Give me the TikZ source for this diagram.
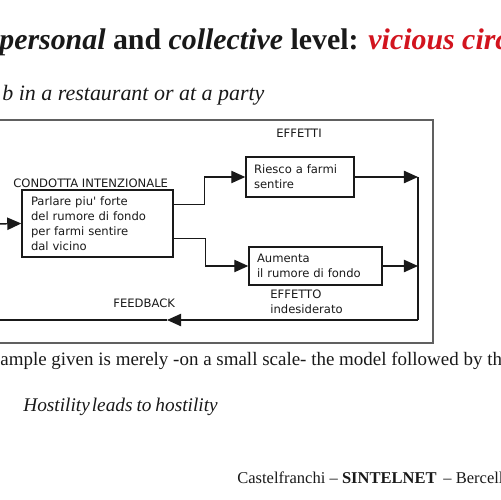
\documentclass[tikz,border=0pt]{standalone}
\usepackage{fontspec}
\setmainfont{Liberation Serif}
\newfontfamily\diag{DejaVu Sans}
\usetikzlibrary{arrows.meta}
\definecolor{titlered}{RGB}{210,20,30}
\definecolor{ink}{RGB}{25,25,25}
\begin{document}
\begin{tikzpicture}[x=0.02cm,y=-0.02cm,
  box/.style={draw=ink, line width=0.8pt, inner xsep=0.18cm, inner ysep=0pt, align=left,
    font=\diag\fontsize{6.6pt}{8.5pt}\selectfont, text=ink},
  lbl/.style={font=\diag\fontsize{6.6pt}{8.5pt}\selectfont, inner sep=0pt, anchor=base west, text=ink},
  conn/.style={draw=ink, line width=0.8pt},
  arr/.style={conn, -{Triangle[length=8pt,width=7pt]}},
  txt/.style={inner sep=0pt, anchor=base west, text=ink},
]
\useasboundingbox (0,0) rectangle (500,500);
\clip (0,0) rectangle (500,500);

% texts
\node[txt, font=\fontsize{17pt}{19pt}\selectfont\bfseries] (title) at (-1,50)
  {\textit{personal} and \textit{collective} level: \textcolor{titlered}{\textit{vicious circ}}};
\node[txt, font=\itshape\fontsize{12.5pt}{14pt}\selectfont] (sub) at (2,101) {b in a restaurant or at a party};
\node[txt, font=\fontsize{10.8pt}{13pt}\selectfont] (body) at (0,365)
  {ample given is merely -on a small scale- the model followed by th};
\node[txt, font=\itshape\fontsize{11pt}{13pt}\selectfont] (host) at (23,411)
  {Hostility\hspace{0.1em}leads\hspace{0.2em}to\hspace{0.2em}hostility};
\node[txt, font=\fontsize{9.4pt}{11pt}\selectfont] (foot) at (237,483)
  {Castelfranchi -- \textbf{SINTELNET}\, -- Bercell};

% frame
\draw[draw=gray!75!black, line width=0.8pt] (-5,120) -- (433,120) -- (433,343) -- (-5,343);

% boxes
\node[box, text width=2.66cm, minimum height=1.34cm] (b1) at (97.5,223.5)
  {Parlare piu' forte\\del rumore di fondo\\per farmi sentire\\dal vicino};
\node[box, text width=1.84cm, minimum height=0.8cm, inner xsep=0.16cm] (b2) at (300,177)
  {Riesco a farmi\\sentire};
\node[box, text width=2.34cm, minimum height=0.76cm, inner xsep=0.16cm] (b3) at (315.5,266)
  {Aumenta\\il rumore di fondo};

% labels
\node[lbl] (cond) at (13,187) {CONDOTTA INTENZIONALE};
\node[lbl] (eff) at (276,137) {EFFETTI};
\node[lbl] (eff1) at (270,298) {EFFETTO};
\node[lbl] (eff2) at (270,313) {indesiderato};
\node[lbl] (fbk) at (113,307) {FEEDBACK};

% connectors
\coordinate (in) at (-5,224);
\coordinate (fb) at (418,320);
\coordinate (mid) at (167,320);
\coordinate (out) at (-5,320);
\draw[arr] (in) -- (b1.west);
\draw[arr] ([yshift=-0.3cm]b1.north east) -- ++(31,0) |- (b2.west);
\draw[arr] ([yshift=0.38cm]b1.south east) -- ++(32,0) |- (b3.west);
\draw[arr] (b2.east) -- (b2.east -| fb);
\draw[arr] (b3.east) -- (b3.east -| fb);
\draw[conn] (b2.east -| fb) -- (fb);
\draw[arr] (fb) -- (mid);
\draw[conn] (mid) -- (out);
\end{tikzpicture}
\end{document}
